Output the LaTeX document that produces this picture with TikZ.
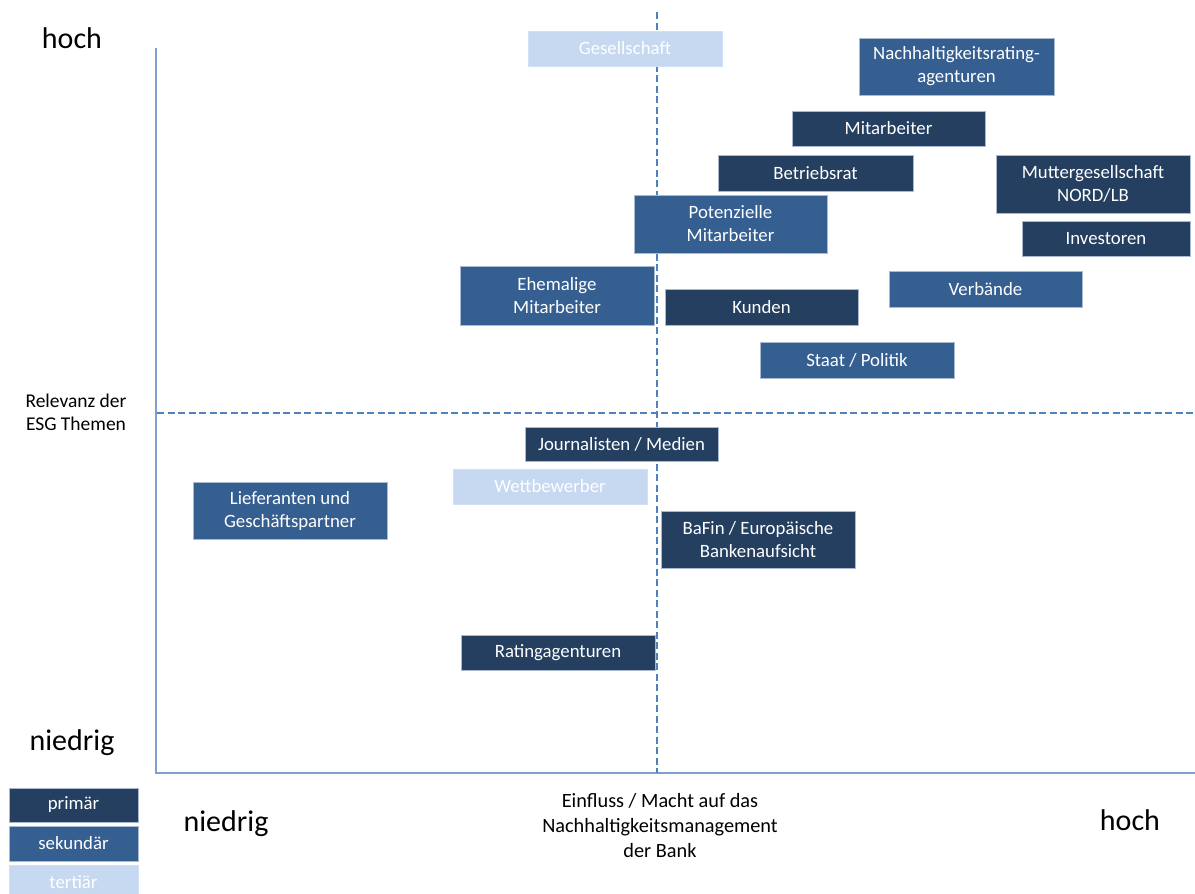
\documentclass[tikz,border=0pt]{standalone}
\usepackage{fontspec}
\setmainfont{Carlito}
\definecolor{prim}{HTML}{243F60}
\definecolor{sek}{HTML}{365F91}
\definecolor{ter}{HTML}{C6D9F1}
\definecolor{dash}{HTML}{4F81BD}
\definecolor{axis}{HTML}{7EA0CF}
\definecolor{edge}{HTML}{A9B9CF}
\tikzset{
  bx/.style={rectangle, draw=edge, line width=0.8pt, inner sep=0pt, align=center,
     text=white, font=\fontsize{18.8}{23}\selectfont},
  primbox/.style={bx, fill=prim},
  sekbox/.style={bx, fill=sek},
  terbox/.style={bx, fill=ter, draw=ter!80!white},
  biglabel/.style={font=\fontsize{30}{34}\selectfont, text=black, inner sep=0pt},
  midlabel/.style={font=\fontsize{20.3}{25}\selectfont, text=black, align=center, inner sep=0pt},
  axislabel/.style={font=\fontsize{19.5}{23}\selectfont, text=black, align=center, inner sep=0pt},
  axisline/.style={draw=axis, line width=1.5pt},
  dashline/.style={draw=dash, line width=1.8pt, dash pattern=on 7pt off 3.5pt},
}
\newcommand{\stakebox}[7]{%
  \node[#6, minimum width={(#4)-(#2)}, minimum height={(#5)-(#3)}] (#1) at ({((#2)+(#4))/2},{((#3)+(#5))/2}) {#7};}
\begin{document}
\begin{tikzpicture}[x=1pt,y=-1pt]
\useasboundingbox (0,0) rectangle (1195,894);
% axes
\coordinate (origin) at (156,773);
\coordinate (ytop) at (156,48);
\coordinate (xend) at (1195,773);
\draw[axisline] (ytop) -- (origin) -- (xend);
% dashed quadrant lines
\coordinate (vtop) at (657,12);
\coordinate (vbot) at (657,773);
\coordinate (hl) at (157,413);
\coordinate (hr) at (1195,413);
\draw[dashline] (vtop) -- (vbot);
\draw[dashline] (hl) -- (hr);
% boxes
\stakebox{ges}{528}{31}{722}{66}{terbox}{Gesellschaft}
\stakebox{nra}{859}{38}{1054}{95}{sekbox}{Nachhaltigkeitsrating-\\agenturen}
\stakebox{mit}{792}{111}{985}{146}{primbox}{Mitarbeiter}
\stakebox{bet}{718}{155}{913}{191}{primbox}{Betriebsrat}
\stakebox{mut}{996}{155}{1190}{213}{primbox}{Muttergesellschaft\\NORD/LB}
\stakebox{pot}{634}{195}{827}{253}{sekbox}{Potenzielle\\Mitarbeiter}
\stakebox{inv}{1022}{221}{1190}{256}{primbox}{Investoren}
\stakebox{ehe}{460}{266}{654}{325}{sekbox}{Ehemalige\\Mitarbeiter}
\stakebox{kun}{665}{289}{858}{325}{primbox}{Kunden}
\stakebox{ver}{889}{271}{1082}{307}{sekbox}{Verbände}
\stakebox{sta}{760}{342}{954}{378}{sekbox}{Staat / Politik}
\stakebox{jou}{525}{427}{718}{461}{primbox}{Journalisten / Medien}
\stakebox{wet}{453}{469}{647}{504}{terbox}{Wettbewerber}
\stakebox{lie}{193}{482}{387}{539}{sekbox}{Lieferanten und\\Geschäftspartner}
\stakebox{baf}{661}{511}{855}{568}{primbox}{BaFin / Europäische\\Bankenaufsicht}
\stakebox{rat}{461}{635}{655}{670}{primbox}{Ratingagenturen}
% legend
\stakebox{lp}{9}{788}{138}{822}{primbox}{primär}
\stakebox{ls}{9}{826}{138}{861}{sekbox}{sekundär}
\stakebox{lt}{9}{865}{138}{900}{terbox}{tertiär}
% labels
\node[biglabel] (yhoch) at (72,38) {hoch};
\node[biglabel] (yniedrig) at (72,743) {niedrig};
\node[axislabel] (yrel) at (76,412) {Relevanz der\\ESG Themen};
\node[biglabel] (xniedrig) at (226,824) {niedrig};
\node[biglabel] (xhoch) at (1130,820) {hoch};
\node[midlabel] (xlab) at (660,826) {Einfluss / Macht auf das\\Nachhaltigkeitsmanagement\\der Bank};
\end{tikzpicture}
\end{document}
